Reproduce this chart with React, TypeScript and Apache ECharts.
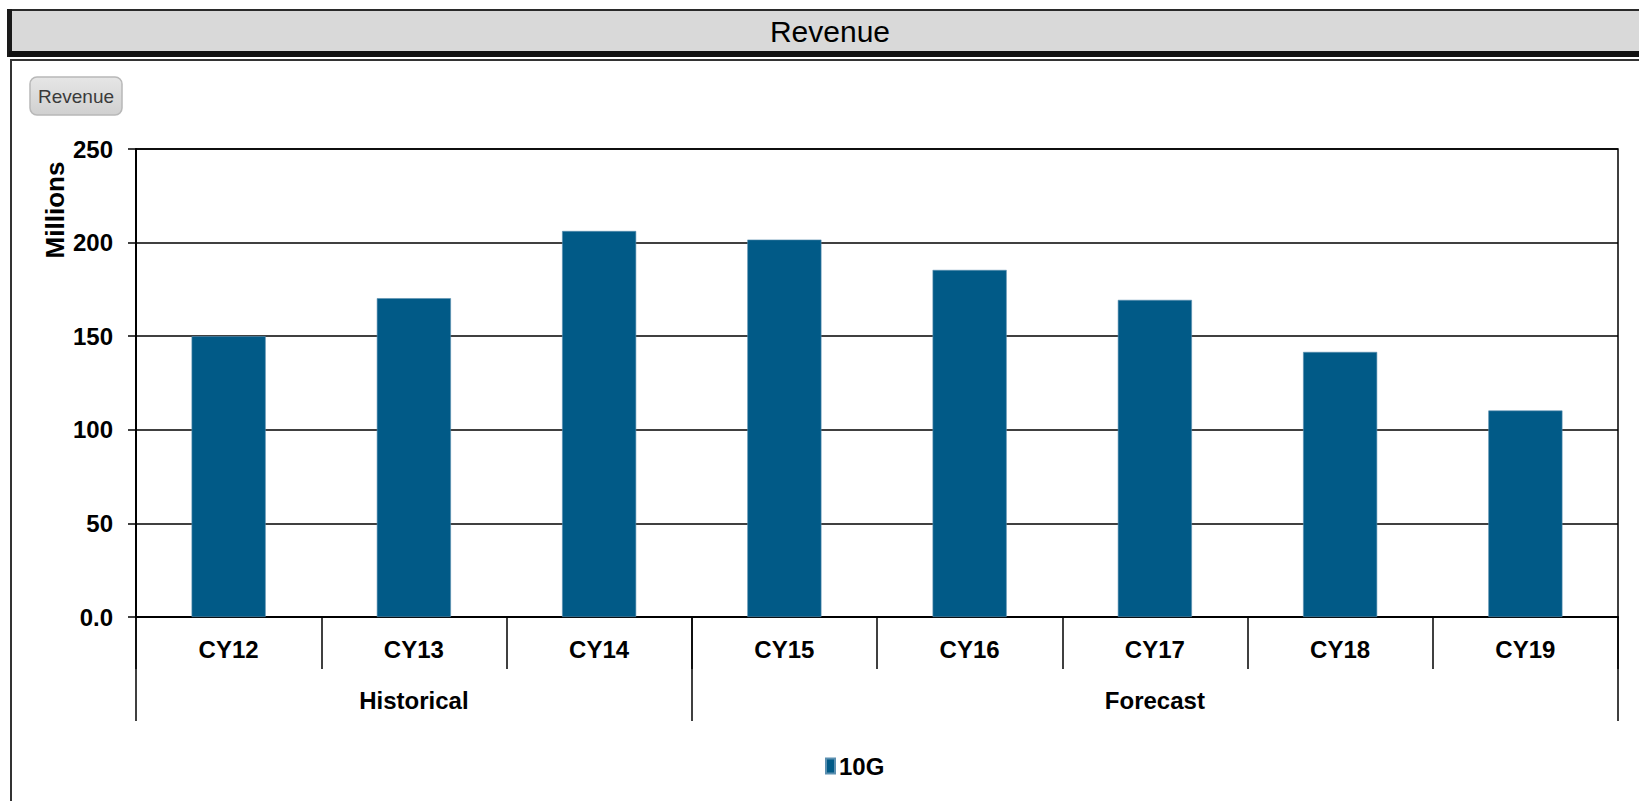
import React, { useEffect, useRef } from 'react';
import * as echarts from 'echarts';

const chartTitle = 'Revenue';
const buttonLabel = 'Revenue';
const yAxisName = 'Millions';
const seriesName = '10G';
const categories = ['CY12', 'CY13', 'CY14', 'CY15', 'CY16', 'CY17', 'CY18', 'CY19'];
const revenue = [150, 170.3, 206.2, 201.6, 185.4, 169.4, 141.6, 110.3];
const groupNames = ['Historical', 'Forecast'];
const groupSizes = [3, 5];
const yMin = 0;
const yMax = 250;
const yStep = 50;

const LBL = '"Liberation Sans", Arial, sans-serif';
const SANS = '"Liberation Sans", Arial, sans-serif';
const BAR = '#015a87';
const LBL_SIZE = 24;

export default function App() {
  const ref = useRef<HTMLDivElement>(null);

  useEffect(() => {
    document.body.style.margin = '0';
    if (!ref.current) return;
    const chart = echarts.init(ref.current, undefined, { renderer: 'svg' });

    const boundaries: number[] = [0];
    groupSizes.forEach((s) => boundaries.push(boundaries[boundaries.length - 1] + s));
    const centers = groupSizes.map((s, i) => boundaries[i] + s / 2);

    const labelStyle = {
      fontFamily: LBL,
      fontWeight: 'bold',
      fontSize: LBL_SIZE,
      color: '#000',
    };

    const option: any = {
      animation: false,
      backgroundColor: '#ffffff',
      grid: {
        left: 136,
        right: 21,
        top: 149,
        bottom: 184,
        show: true,
        borderColor: '#000',
        borderWidth: 1.5,
        backgroundColor: 'transparent',
      },
      legend: {
        left: 820,
        top: 749,
        icon: 'rect',
        itemWidth: 9,
        itemHeight: 15,
        itemGap: 10,
        textStyle: { ...labelStyle, padding: [0, 0, 0, -1] },
        data: [seriesName],
      },
      xAxis: [
        {
          type: 'category',
          data: categories,
          position: 'bottom',
          boundaryGap: true,
          axisLine: { show: true, lineStyle: { color: '#000', width: 2 } },
          axisTick: { show: true, interval: 0, length: 52, lineStyle: { color: '#000', width: 1.5 } },
          axisLabel: { interval: 0, margin: 20, ...labelStyle },
          splitLine: { show: false },
        },
        {
          type: 'value',
          min: 0,
          max: categories.length,
          position: 'bottom',
          axisLine: { show: false },
          axisTick: {
            show: true,
            customValues: boundaries,
            length: 104,
            lineStyle: { color: '#000', width: 1.5 },
          },
          axisLabel: {
            show: true,
            customValues: centers,
            margin: 71,
            ...labelStyle,
            formatter: (v: number) => {
              const i = centers.indexOf(v);
              return i >= 0 ? groupNames[i] : '';
            },
          },
          splitLine: { show: false },
        },
      ],
      yAxis: {
        type: 'value',
        min: yMin,
        max: yMax,
        interval: yStep,
        axisLine: { show: true, lineStyle: { color: '#000', width: 2 } },
        axisTick: { show: true, inside: false, length: 8, lineStyle: { color: '#000', width: 1.5 } },
        axisLabel: {
          margin: 23,
          ...labelStyle,
          formatter: (v: number) => (v === 0 ? '0.0' : String(v)),
        },
        splitLine: { show: true, lineStyle: { color: '#000', width: 1.5 } },
      },
      series: [
        {
          name: seriesName,
          type: 'bar',
          xAxisIndex: 0,
          data: revenue,
          barWidth: '40%',
          itemStyle: { color: BAR, borderColor: '#5b8fb0', borderWidth: 0.6 },
        },
      ],
      graphic: [
        {
          type: 'rect',
          shape: { x: 9, y: 10, width: 1700, height: 42 },
          style: { fill: '#d9d9d9', stroke: '#2a2a2a', lineWidth: 2 },
          silent: true,
        },
        {
          type: 'rect',
          shape: { x: 7, y: 9, width: 5, height: 48 },
          style: { fill: '#1a1a1a' },
          silent: true,
        },
        {
          type: 'rect',
          shape: { x: 9, y: 51, width: 1700, height: 6 },
          style: { fill: '#111' },
          silent: true,
        },
        {
          type: 'rect',
          shape: { x: 11, y: 60, width: 1700, height: 800 },
          style: { fill: 'none', stroke: '#333', lineWidth: 2 },
          silent: true,
        },
        {
          type: 'text',
          x: 830,
          y: 31,
          style: {
            text: chartTitle,
            fontFamily: SANS,
            fontSize: 30,
            fill: '#000',
            align: 'center',
            verticalAlign: 'middle',
          },
          silent: true,
        },
        {
          type: 'rect',
          shape: { x: 30, y: 77, width: 92, height: 38, r: 7 },
          style: {
            fill: new echarts.graphic.LinearGradient(0, 0, 0, 1, [
              { offset: 0, color: '#e6e6e6' },
              { offset: 1, color: '#d0d0d0' },
            ]),
            stroke: '#b8b8b8',
            lineWidth: 1.5,
          },
          silent: true,
        },
        {
          type: 'text',
          x: 76,
          y: 96,
          style: {
            text: buttonLabel,
            fontFamily: SANS,
            fontSize: 19,
            fill: '#3a3a3a',
            align: 'center',
            verticalAlign: 'middle',
          },
          silent: true,
        },
        {
          type: 'text',
          x: 55,
          y: 210,
          rotation: Math.PI / 2,
          style: {
            text: yAxisName,
            fontFamily: SANS,
            fontWeight: 'bold',
            fontSize: 26,
            fill: '#000',
            align: 'center',
            verticalAlign: 'middle',
          },
          silent: true,
        },
      ],
    };

    chart.setOption(option);
    return () => chart.dispose();
  }, []);

  return (
    <div
      ref={ref}
      style={{ position: 'fixed', left: 0, top: 0, width: 1639, height: 801, background: '#fff' }}
    />
  );
}
